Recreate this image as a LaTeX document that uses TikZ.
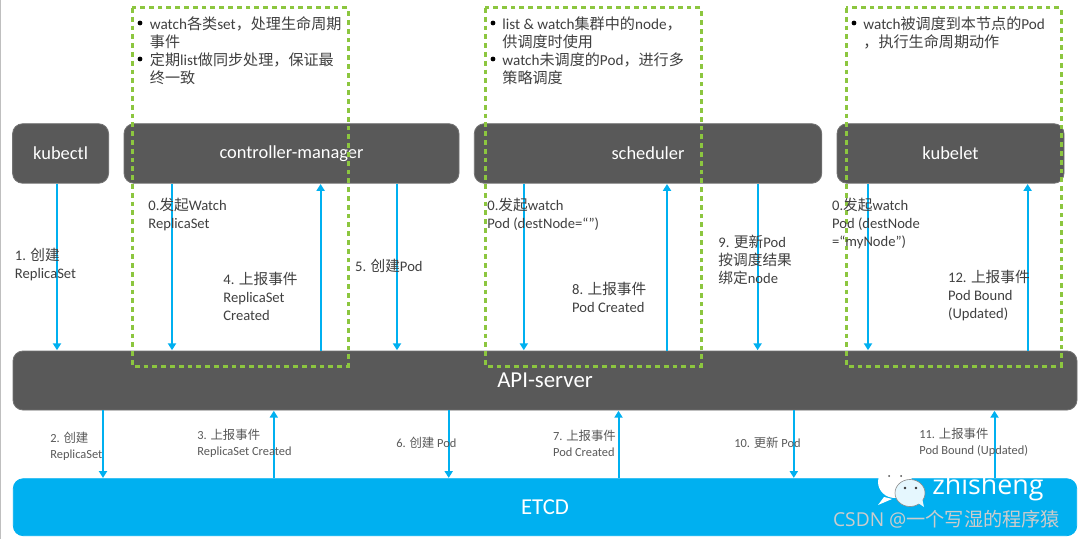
\documentclass[tikz,border=0pt]{standalone}
\usepackage{fontspec}
\setmainfont{Carlito}
\newfontfamily\cjk{Noto Sans CJK SC}
\newfontfamily\wmfont{Open Sans}
\newcommand{\zh}[1]{{\cjk\fontsize{\zhsize}{\zhlead}\selectfont #1}}
\newcommand{\zhsize}{7.55}
\newcommand{\zhlead}{9}
\definecolor{boxgrey}{HTML}{595959}
\definecolor{flowblue}{HTML}{00B0F0}
\definecolor{dashgreen}{HTML}{8CC63F}
\definecolor{labeltext}{HTML}{404040}
\definecolor{lowtext}{HTML}{595959}
\usetikzlibrary{arrows.meta}
\tikzset{
  darkbox/.style={draw=boxgrey!85!white,line width=.4pt,fill=boxgrey,rounded corners=5pt,text=white,inner sep=0pt,
    font=\fontsize{9.2}{11}\selectfont},
  bigbox/.style={darkbox,font=\fontsize{11.4}{13}\selectfont},
  etcdbox/.style={bigbox,draw=flowblue,fill=flowblue},
  flow/.style={draw=flowblue,line width=1pt,-{Triangle[length=3.4pt,width=4pt]},shorten >=0.2pt},
  watchzone/.style={draw=dashgreen,line width=1.5pt,dash pattern=on 2.4pt off 2pt},
  note/.style={anchor=north west,align=left,inner sep=0pt,text=labeltext,font=\fontsize{7.6}{9}\selectfont},
  bulletmark/.style={circle,fill=black,inner sep=0pt,minimum size=2.4pt},
  upper/.style={anchor=west,align=left,inner sep=0pt,text=labeltext,font=\fontsize{7.3}{9}\selectfont},
  lower/.style={anchor=west,align=left,inner sep=0pt,text=lowtext,font=\fontsize{6.2}{8}\selectfont},
}
\begin{document}
\begin{tikzpicture}[x=0.5pt,y=-0.5pt]
\useasboundingbox (0,0) rectangle (1080,539);
\fill[white] (0,0) rectangle (1080,539);
\fill[gray!50] (0,0) rectangle (1.2,539);

% boxes
\node[darkbox,minimum width=48pt,minimum height=29.75pt] (kubectl) at (60.6,153.5) {kubectl};
\node[darkbox,minimum width=167.5pt,minimum height=29.75pt] (cm) at (291.5,153.5) {controller-manager};
\node[darkbox,minimum width=173.75pt,minimum height=29.75pt] (sched) at (648,153.5) {scheduler};
\node[darkbox,minimum width=113.5pt,minimum height=29.75pt] (kubelet) at (950.5,153.5) {kubelet};
\node[bigbox,minimum width=532pt,minimum height=29.5pt] (api) at (545,380.5) {API-server};
\node[etcdbox,minimum width=531.7pt,minimum height=28.5pt] (etcd) at (545,507.2) {ETCD};

% connectors, upper band
\draw[flow] (57,0 |- kubectl.south) -- (57,0 |- api.north);
\draw[flow] (172,0 |- cm.south) -- (172,0 |- api.north);
\draw[flow] (320.6,0 |- api.north) -- (320.6,0 |- cm.south);
\draw[flow] (397,0 |- cm.south) -- (397,0 |- api.north);
\draw[flow] (523.8,0 |- sched.south) -- (523.8,0 |- api.north);
\draw[flow] (667,0 |- api.north) -- (667,0 |- sched.south);
\draw[flow] (757.6,0 |- sched.south) -- (757.6,0 |- api.north);
\draw[flow] (868,0 |- kubelet.south) -- (868,0 |- api.north);
\draw[flow] (1027.6,0 |- api.north) -- (1027.6,0 |- kubelet.south);
% connectors, lower band
\draw[flow] (103,0 |- api.south) -- (103,0 |- etcd.north);
\draw[flow] (273.8,0 |- etcd.north) -- (273.8,0 |- api.south);
\draw[flow] (448.7,0 |- api.south) -- (448.7,0 |- etcd.north);
\draw[flow] (618.5,0 |- etcd.north) -- (618.5,0 |- api.south);
\draw[flow] (793.8,0 |- api.south) -- (793.8,0 |- etcd.north);
\draw[flow] (994.5,0 |- etcd.north) -- (994.5,0 |- api.south);

% dashed zones
\draw[watchzone] (132,8) rectangle (348,366);
\draw[watchzone] (485,8) rectangle (701,366);
\draw[watchzone] (846,8) rectangle (1061,366);

% notes
\node[bulletmark] (b1) at (140,23) {};
\node[bulletmark] (b2) at (140,59) {};
\node[note] (n1) at (149.5,16.5) {watch\zh{各类}set\zh{，处理生命周期}\\\zh{事件}\\\zh{定期}list\zh{做同步处理，保证最}\\\zh{终一致}};
\node[bulletmark] (b3) at (493,23) {};
\node[bulletmark] (b4) at (493,59) {};
\node[note] (n2) at (502,16.5) {list \& watch\zh{集群中的}node\zh{，}\\\zh{供调度时使用}\\watch\zh{未调度的}Pod\zh{，进行多}\\\zh{策略调度}};
\node[bulletmark] (b5) at (854,23) {};
\node[note] (n3) at (863,16.5) {watch\zh{被调度到本节点的}Pod\\\zh{，执行生命周期动作}};

% upper labels
\renewcommand{\zhsize}{7.35}
\node[upper] (l1) at (14.5,265) {1. \zh{创建}\\ReplicaSet};
\node[upper] (l0a) at (148,214) {0.\zh{发起}Watch\\ReplicaSet};
\node[upper] (l4) at (223,296) {4. \zh{上报事件}\\ReplicaSet\\Created};
\node[upper] (l5) at (354.7,266) {5. \zh{创建}Pod};
\node[upper] (l0b) at (487,214) {0.\zh{发起}watch\\Pod (destNode=“”)};
\node[upper] (l8) at (571.7,297) {8. \zh{上报事件}\\Pod Created};
\node[upper] (l9) at (718,260) {9. \zh{更新}Pod\\\zh{按调度结果}\\\zh{绑定}node};
\node[upper] (l0c) at (831.7,223) {0.\zh{发起}watch\\Pod (destNode\\=“myNode”)};
\node[upper] (l12) at (947.7,296) {12. \zh{上报事件}\\Pod Bound\\(Updated)};

% lower labels
\renewcommand{\zhsize}{6.2}
\renewcommand{\zhlead}{8}
\node[lower] (l2) at (50,446) {2. \zh{创建}\\ReplicaSet};
\node[lower] (l3) at (197,443) {3. \zh{上报事件}\\ReplicaSet Created};
\node[lower] (l6) at (396,443) {6. \zh{创建} Pod};
\node[lower] (l7) at (552.7,443) {7. \zh{上报事件}\\Pod Created};
\node[lower] (l10) at (734,443) {10. \zh{更新} Pod};
\node[lower] (l11) at (919,442) {11. \zh{上报事件}\\Pod Bound (Updated)};

% watermark
\fill[white] (895,482) ellipse (17 and 16);
\fill[white] (884,497) -- (878,505) -- (892,499) -- cycle;
\fill[black!70] (889,476) circle (1) (901,476) circle (1);
\draw[boxgrey!70,line width=.3pt,fill=white!90!flowblue] (910,493) ellipse (15 and 13.5);
\fill[white!90!flowblue] (918,503) -- (924,507) -- (922,498) -- cycle;
\fill[black!80] (905,488) circle (1.3) (916,488) circle (1.3);
\node[inner sep=0pt,anchor=west,text=white,font=\wmfont\fontsize{13.4}{16}\selectfont] (wm1) at (932,488) {zhisheng};
\node[inner sep=0pt,anchor=west,text=black!20,font=\wmfont\fontsize{9.6}{11}\selectfont] (wm2) at (832.7,519) {CSDN @{\cjk 一个写湿的程序猿}};
\end{tikzpicture}
\end{document}
